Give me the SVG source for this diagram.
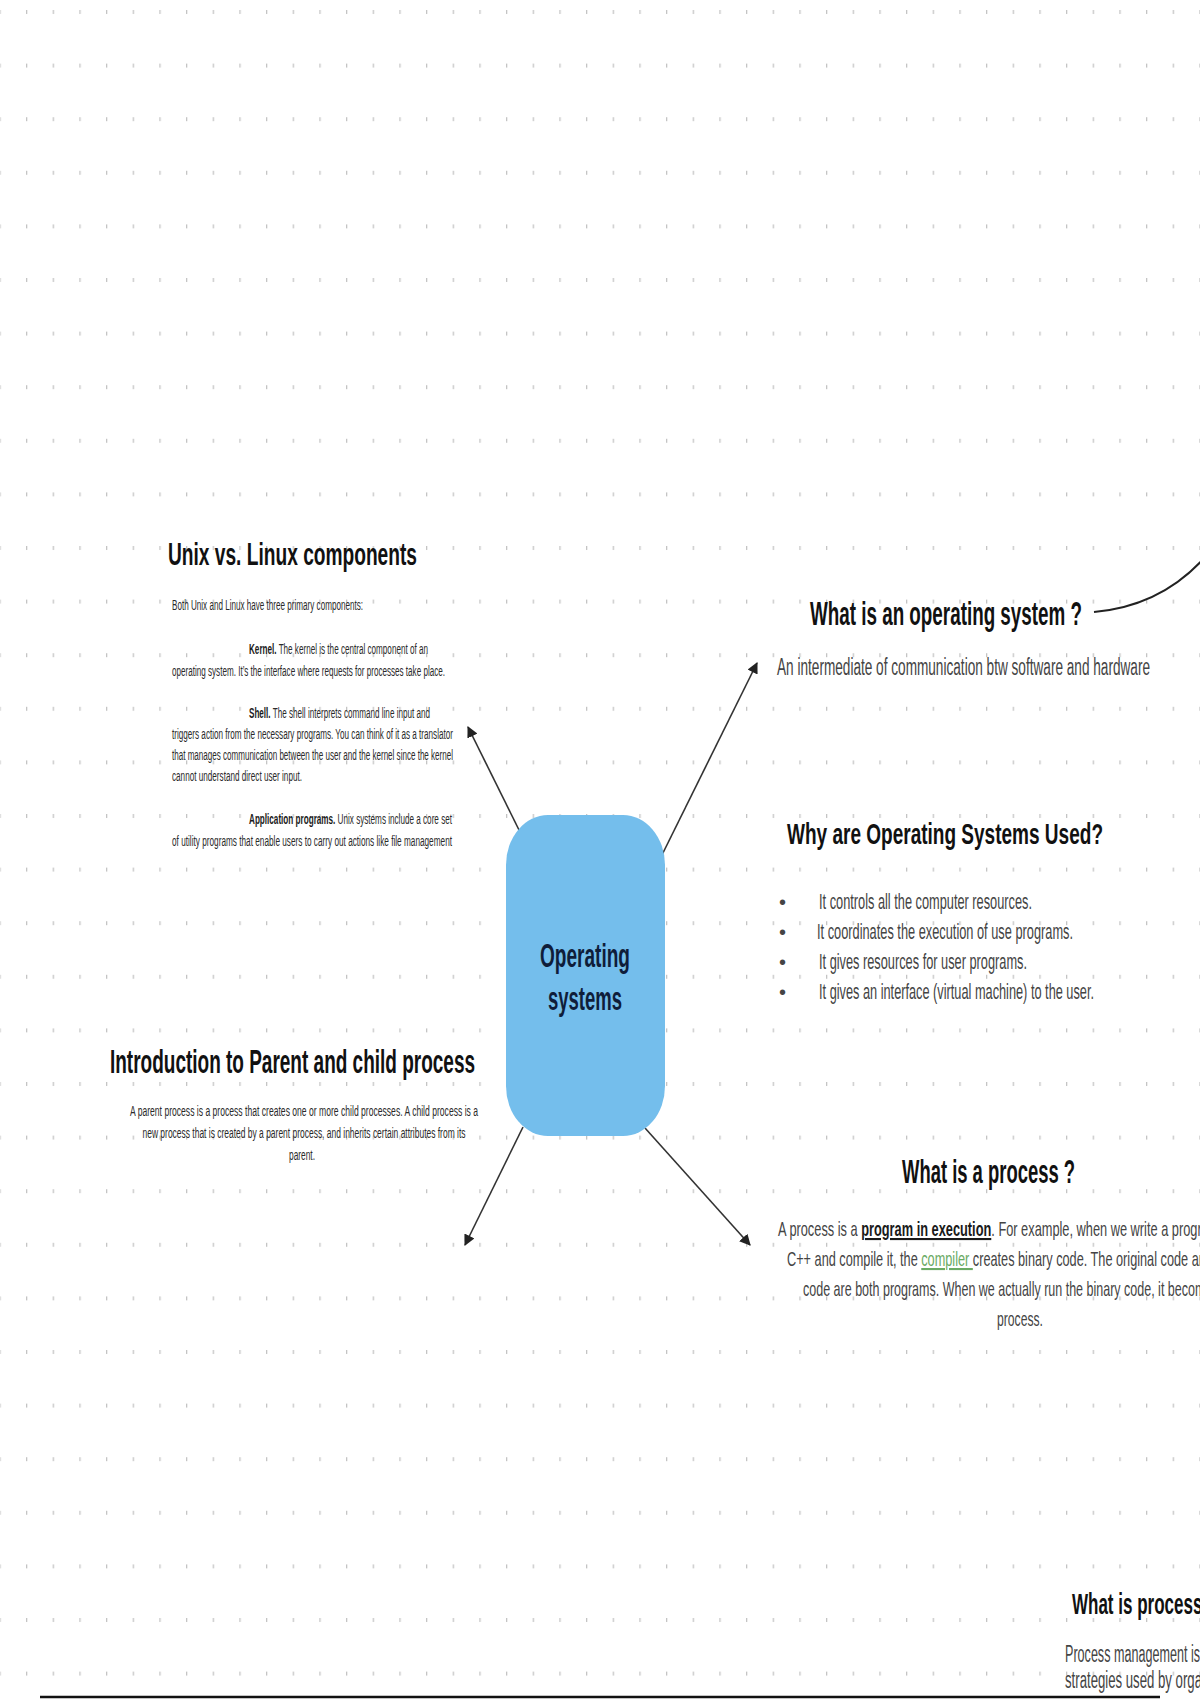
<svg xmlns="http://www.w3.org/2000/svg" width="1200" height="1700" viewBox="0 0 1200 1700">
  <style>
    .t { font-family: "Liberation Sans Narrow", "Liberation Sans", Arial, sans-serif; }
    .title { font-weight: bold; fill: #111; }
    .body { fill: #444; }
    .small { fill: #2a2a2a; font-size: 14px; }
    .b { font-weight: bold; fill: #1a1a1a; }
    .conn { stroke: #333; stroke-width: 1.6; fill: none; }
  </style>
  <defs>
    <pattern id="dots" patternUnits="userSpaceOnUse" x="26" y="10" width="26.667" height="53.6">
      <rect x="0" y="0" width="1.3" height="4" fill="#c4c4c4"/>
    </pattern>
    <marker id="arr" viewBox="0 0 10 10" refX="9" refY="5" markerWidth="7" markerHeight="7" orient="auto">
      <path d="M0,0 L10,5 L0,10 z" fill="#222"/>
    </marker>
  </defs>

  <rect x="0" y="0" width="1200" height="1700" fill="#ffffff"/>
  <rect x="0" y="0" width="1200" height="1700" fill="url(#dots)"/>

  <g id="connectors">
    <line class="conn" x1="523" y1="838" x2="468" y2="727" marker-end="url(#arr)"/>
    <line class="conn" x1="658" y1="863" x2="757" y2="663" marker-end="url(#arr)"/>
    <line class="conn" x1="523" y1="1127" x2="465" y2="1245" marker-end="url(#arr)"/>
    <line class="conn" x1="645" y1="1128" x2="750" y2="1245" marker-end="url(#arr)"/>
    <path d="M1094,612 Q1162,606 1206,556" stroke="#222" stroke-width="2.2" fill="none"/>
  </g>

  <g id="node-center">
    <rect x="506" y="815" width="159" height="321" rx="42" ry="50" fill="#74BEEC"/>
    <text class="t" x="585" y="967" text-anchor="middle" font-size="33" font-weight="bold" fill="#0f1d3a" textLength="90" lengthAdjust="spacingAndGlyphs">Operating</text>
    <text class="t" x="585" y="1010" text-anchor="middle" font-size="33" font-weight="bold" fill="#0f1d3a" textLength="74" lengthAdjust="spacingAndGlyphs">systems</text>
  </g>

  <g id="node-unix">
    <text class="t title" x="168" y="565" font-size="32" textLength="249" lengthAdjust="spacingAndGlyphs">Unix vs. Linux components</text>
    <text class="t small" x="172" y="610" textLength="191" lengthAdjust="spacingAndGlyphs">Both Unix and Linux have three primary components:</text>
    <text class="t small" x="249" y="654" textLength="179" lengthAdjust="spacingAndGlyphs"><tspan class="b">Kernel.</tspan> The kernel is the central component of an</text>
    <text class="t small" x="172" y="676" textLength="273" lengthAdjust="spacingAndGlyphs">operating system. It’s the interface where requests for processes take place.</text>
    <text class="t small" x="249" y="718" textLength="181" lengthAdjust="spacingAndGlyphs"><tspan class="b">Shell.</tspan> The shell interprets command line input and</text>
    <text class="t small" x="172" y="739" textLength="281" lengthAdjust="spacingAndGlyphs">triggers action from the necessary programs. You can think of it as a translator</text>
    <text class="t small" x="172" y="760" textLength="281" lengthAdjust="spacingAndGlyphs">that manages communication between the user and the kernel since the kernel</text>
    <text class="t small" x="172" y="781" textLength="130" lengthAdjust="spacingAndGlyphs">cannot understand direct user input.</text>
    <text class="t small" x="249" y="824" textLength="203" lengthAdjust="spacingAndGlyphs"><tspan class="b">Application programs.</tspan> Unix systems include a core set</text>
    <text class="t small" x="172" y="846" textLength="280" lengthAdjust="spacingAndGlyphs">of utility programs that enable users to carry out actions like file management</text>
  </g>

  <g id="node-what-os">
    <text class="t title" x="810" y="625" font-size="34" textLength="272" lengthAdjust="spacingAndGlyphs">What is an operating system ?</text>
    <text class="t body" x="777" y="675" font-size="23" textLength="373" lengthAdjust="spacingAndGlyphs">An intermediate of communication btw software and hardware</text>
  </g>

  <g id="node-why-os">
    <text class="t title" x="787" y="844" font-size="30" textLength="316" lengthAdjust="spacingAndGlyphs">Why are Operating Systems Used?</text>
    <text class="t body" x="779" y="909" font-size="20">•</text>
    <text class="t body" x="779" y="939" font-size="20">•</text>
    <text class="t body" x="779" y="969" font-size="20">•</text>
    <text class="t body" x="779" y="999" font-size="20">•</text>
    <text class="t body" x="819" y="909" font-size="22" textLength="213" lengthAdjust="spacingAndGlyphs">It controls all the computer resources.</text>
    <text class="t body" x="817" y="939" font-size="22" textLength="256" lengthAdjust="spacingAndGlyphs">It coordinates the execution of use programs.</text>
    <text class="t body" x="819" y="969" font-size="22" textLength="208" lengthAdjust="spacingAndGlyphs">It gives resources for user programs.</text>
    <text class="t body" x="819" y="999" font-size="22" textLength="275" lengthAdjust="spacingAndGlyphs">It gives an interface (virtual machine) to the user.</text>
  </g>

  <g id="node-parent-child">
    <text class="t title" x="110" y="1073" font-size="34" textLength="365" lengthAdjust="spacingAndGlyphs">Introduction to Parent and child process</text>
    <text class="t small" x="304" y="1116" text-anchor="middle" textLength="348" lengthAdjust="spacingAndGlyphs">A parent process is a process that creates one or more child processes. A child process is a</text>
    <text class="t small" x="304" y="1138" text-anchor="middle" textLength="323" lengthAdjust="spacingAndGlyphs">new process that is created by a parent process, and inherits certain attributes from its</text>
    <text class="t small" x="302" y="1160" text-anchor="middle" textLength="26" lengthAdjust="spacingAndGlyphs">parent.</text>
  </g>

  <g id="node-process">
    <text class="t title" x="902" y="1183" font-size="33" textLength="173" lengthAdjust="spacingAndGlyphs">What is a process ?</text>
    <text class="t body" x="778" y="1236" font-size="21" textLength="455" lengthAdjust="spacingAndGlyphs">A process is a <tspan class="b" fill="#333" text-decoration="underline">program in execution</tspan>. For example, when we write a program in</text>
    <text class="t body" x="787" y="1266" font-size="21" textLength="464" lengthAdjust="spacingAndGlyphs">C++ and compile it, the <tspan fill="#6aaa64" text-decoration="underline">compiler </tspan>creates binary code. The original code and binary</text>
    <text class="t body" x="803" y="1296" font-size="21" textLength="426" lengthAdjust="spacingAndGlyphs">code are both programs. When we actually run the binary code, it becomes a</text>
    <text class="t body" x="1020" y="1326" font-size="21" text-anchor="middle" textLength="46" lengthAdjust="spacingAndGlyphs">process.</text>
  </g>

  <g id="node-process-management">
    <text class="t title" x="1072" y="1614" font-size="30" textLength="255" lengthAdjust="spacingAndGlyphs">What is process management ?</text>
    <text class="t body" x="1065" y="1662" font-size="23" textLength="135" lengthAdjust="spacingAndGlyphs">Process management is</text>
    <text class="t body" x="1065" y="1688" font-size="23" textLength="189" lengthAdjust="spacingAndGlyphs">strategies used by organizations</text>
  </g>

  <line x1="40" y1="1697" x2="1160" y2="1697" stroke="#111" stroke-width="2.5"/>
</svg>
